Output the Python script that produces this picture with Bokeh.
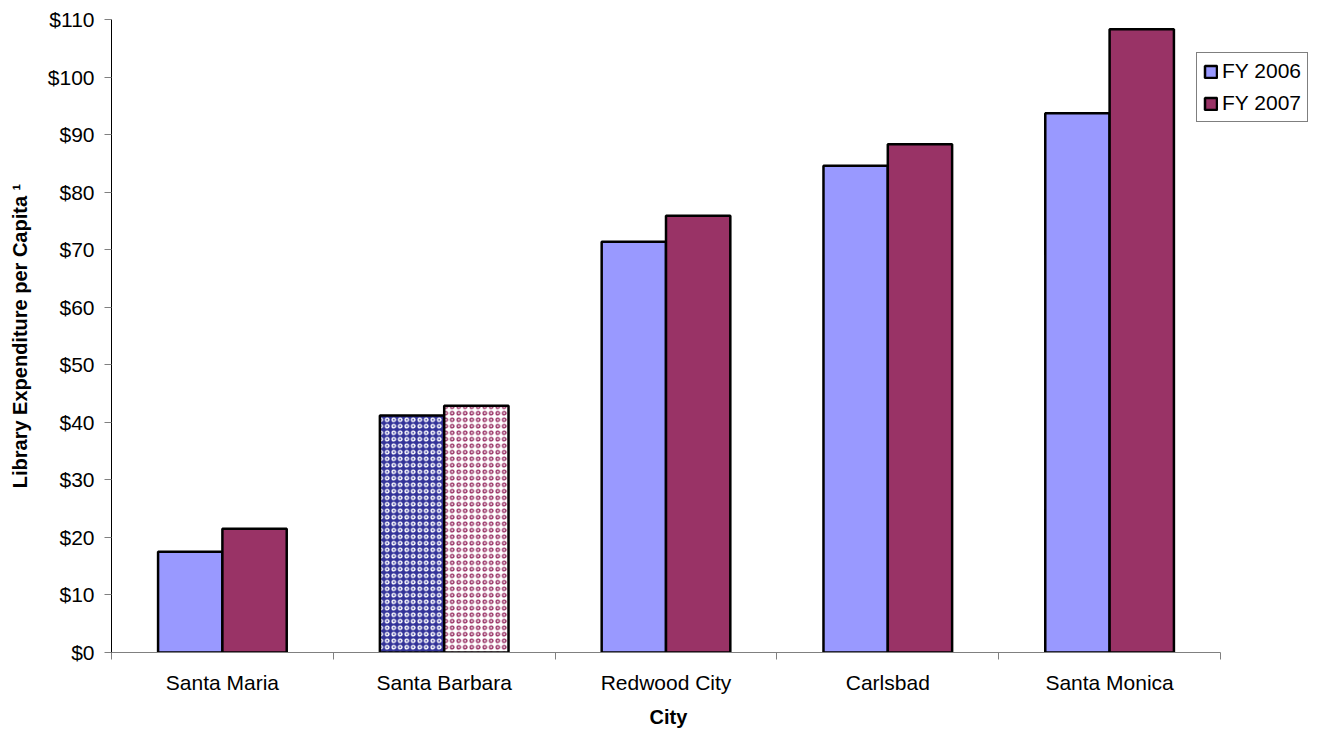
import numpy as np
from bokeh.plotting import figure
from bokeh.models import (ColumnDataSource, Range1d, FixedTicker, Legend, LegendItem,
                          NumeralTickFormatter, Title)
from bokeh.embed import file_html
from bokeh.resources import INLINE

cities = ["Santa Maria", "Santa Barbara", "Redwood City", "Carlsbad", "Santa Monica"]
fy2006 = [17.5, 41.2, 71.4, 84.6, 93.7]
fy2007 = [21.5, 42.9, 75.9, 88.3, 108.3]
series_names = ["FY 2006", "FY 2007"]
y_ticks = list(range(0, 111, 10))
x_title = "City"
y_title = "Library Expenditure per Capita \u00b9"

highlight = "Santa Barbara"

FONT = "Liberation Sans"
C06 = "#9999FF"
C07 = "#993366"

n = len(cities)
idx = np.arange(n)
centers = idx + 0.5
bw = 0.29

src06 = ColumnDataSource(dict(
    x=centers - bw / 2, top=fy2006,
    fill=["#333399" if c == highlight else C06 for c in cities],
    hatch=["o" if c == highlight else " " for c in cities],
))
src07 = ColumnDataSource(dict(
    x=centers + bw / 2, top=fy2007,
    fill=["#FFFFFF" if c == highlight else C07 for c in cities],
    hatch=["o" if c == highlight else " " for c in cities],
))

cat_px = 221.8          # width of one category in pixels
frame_w = 1202
p = figure(frame_width=frame_w, frame_height=633, output_backend="svg", toolbar_location=None,
           x_range=Range1d(0, frame_w / cat_px), y_range=Range1d(0, 110),
           min_border_left=111, min_border_top=19, min_border_right=0, min_border_bottom=2)
p.outline_line_color = None
p.xgrid.grid_line_color = None
p.ygrid.grid_line_color = None
p.background_fill_color = "white"

r06 = p.vbar(x="x", top="top", width=bw, bottom=0, source=src06, fill_color="fill",
             line_color="black", line_width=2.5, hatch_pattern="hatch", hatch_color="white",
             hatch_scale=6.5, hatch_weight=1.5)
r07 = p.vbar(x="x", top="top", width=bw, bottom=0, source=src07, fill_color="fill",
             line_color="black", line_width=2.5, hatch_pattern="hatch", hatch_color=C07,
             hatch_scale=6.5, hatch_weight=1.5)

# y axis
ya = p.yaxis[0]
ya.ticker = FixedTicker(ticks=y_ticks)
ya.formatter = NumeralTickFormatter(format="$0")
ya.axis_label = y_title
ya.axis_label_text_font = FONT
ya.axis_label_text_font_style = "bold"
ya.axis_label_text_font_size = "20px"
ya.axis_label_text_color = "black"
ya.axis_label_standoff = 14
ya.major_label_text_font = FONT
ya.major_label_text_font_size = "21px"
ya.major_label_text_color = "black"
ya.major_tick_in = 0
ya.major_tick_out = 7
ya.major_tick_line_color = "#808080"
ya.minor_tick_line_color = None
ya.axis_line_color = "black"
ya.major_label_standoff = 10

# x axis
xa = p.xaxis[0]
xa.bounds = (0, n)
xa.ticker = FixedTicker(ticks=list(centers), minor_ticks=list(range(n + 1)))
xa.major_label_overrides = {float(c): nm for c, nm in zip(centers, cities)}
xa.major_label_text_font = FONT
xa.major_label_text_font_size = "21px"
xa.major_label_text_color = "black"
xa.major_tick_in = 0
xa.major_tick_out = 0
xa.minor_tick_in = 0
xa.minor_tick_out = 7
xa.minor_tick_line_color = "#808080"
xa.axis_line_color = "#808080"
xa.major_label_standoff = 11

# x-axis title, centred under the axis (not the wider frame)
xt = Title(text=x_title, align="left", offset=538, text_font=FONT, text_font_size="20px",
           text_font_style="bold", text_color="black", standoff=14)
p.add_layout(xt, "below")

legend = Legend(items=[LegendItem(label=series_names[0], renderers=[r06], index=0),
                       LegendItem(label=series_names[1], renderers=[r07], index=0)],
                location=(1085, 530))
legend.label_text_font = FONT
legend.label_text_font_size = "21px"
legend.label_text_color = "black"
legend.glyph_width = 15
legend.glyph_height = 15
legend.label_standoff = 4
legend.padding = 6
legend.spacing = 8
legend.label_height = 22
legend.border_line_color = "black"
legend.border_line_width = 1
legend.margin = 0
legend.background_fill_alpha = 1
p.add_layout(legend)

open("out.html", "w").write(file_html(p, INLINE))
